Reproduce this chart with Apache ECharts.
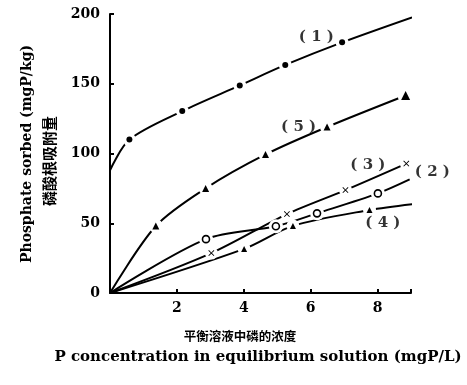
<!DOCTYPE html>
<html><head><meta charset="utf-8">
<script src="https://cdn.jsdelivr.net/npm/echarts@6/dist/echarts.min.js"></script>
<style>html,body{margin:0;padding:0;background:#fff}#c{width:467px;height:385px}</style>
</head><body><div id="c"></div>
<script>
// Data
var xTicks = [2, 4, 6, 8];
var yTicks = [0, 50, 100, 150, 200];
var s1x = [0, 0.58, 2.16, 3.88, 5.24, 6.94, 9.03];
var s1y = [88, 110, 130.4, 148.8, 163.5, 179.7, 197.6];
var s5x = [0, 1.37, 2.86, 4.65, 6.49, 8.84];
var s5y = [0, 48, 75, 99.3, 119, 141.6];
var s3x = [0, 3.03, 5.29, 7.04, 8.86];
var s3y = [0, 28.6, 56.6, 73.8, 92.8];
var s2x = [0, 2.87, 4.96, 6.19, 8.01, 8.96];
var s2y = [0, 38.6, 47.8, 57.1, 71.4, 81.4];
var s4x = [0, 4.01, 5.47, 7.76, 9.07];
var s4y = [0, 31.6, 48.1, 59.5, 63.8];
var curveNames = ['(1)', '(5)', '(3)', '(2)', '(4)'];
var labelX = [6.17, 5.64, 7.71, 9.64, 8.16];
var labelY = [183.3, 119, 91.6, 86.9, 50];

var FONT = 'DejaVu Serif';
var crossPath = 'path://M0,1L1,0L5,4L9,0L10,1L6,5L10,9L9,10L5,6L1,10L0,9L4,5Z';

function pairs(xs, ys) { return xs.map(function (x, i) { return [x, ys[i]]; }); }
// marker points: skip origin; optionally skip the last (line end without marker)
function markerPts(xs, ys, size, lastSize, lastNone) {
  var out = [];
  xs.forEach(function (x, i) {
    if (x === 0) return;
    var last = i === xs.length - 1;
    if (last && lastNone) return;
    out.push({ value: [x, ys[i]], symbolSize: (last && lastSize) ? lastSize : size });
  });
  return out;
}
function curve(xs, ys, sym, size, lastSize, lastNone, empty) {
  var mk = markerPts(xs, ys, size, lastSize, lastNone);
  return [
    { type: 'line', data: pairs(xs, ys), smooth: 0.3, symbol: 'none',
      lineStyle: { color: '#000', width: 2 }, emphasis: { disabled: true }, z: 2, silent: true },
    { type: 'scatter', symbol: 'circle', silent: true, z: 3,
      data: mk.map(function (d) { return { value: d.value, symbolSize: d.symbolSize + 7 }; }),
      itemStyle: { color: '#fff', opacity: 1 } },
    { type: 'scatter', symbol: sym, silent: true, z: 4, data: mk,
      itemStyle: empty ? { color: '#fff', borderColor: '#000', borderWidth: 1.6, opacity: 1 } : { color: '#000', opacity: 1 } }
  ];
}

var series = [].concat(
  curve(s1x, s1y, 'circle', 6, 9),
  curve(s5x, s5y, 'triangle', 7, 9),
  curve(s3x, s3y, crossPath, 6),
  curve(s2x, s2y, 'circle', 7, null, true, true),
  curve(s4x, s4y, 'triangle', 6, 8)
);
series.push({
  type: 'scatter', clip: false, symbolSize: 0, silent: true, z: 5,
  data: labelX.map(function (x, i) { return { value: [x, labelY[i]], name: curveNames[i] }; }),
  label: {
    show: true, position: 'inside', color: '#000', fontFamily: FONT, fontWeight: 'bold', fontSize: 15,
    formatter: function (p) { return p.name.split('').join(' '); }
  }
});

var chart = echarts.init(document.getElementById('c'), null, { renderer: 'canvas' });
chart.setOption({
  animation: false,
  backgroundColor: '#fff',
  grid: { left: 110, right: 56, top: 14, bottom: 92 },
  xAxis: {
    type: 'value', min: 0, max: 9, interval: 2,
    axisLine: { lineStyle: { color: '#000', width: 2 } },
    axisTick: { inside: true, length: 4, lineStyle: { color: '#000', width: 2 } },
    splitLine: { show: false },
    axisLabel: {
      color: '#000', fontFamily: FONT, fontWeight: 'bold', fontSize: 14, margin: 8,
      formatter: function (v) { return xTicks.indexOf(v) >= 0 ? String(v) : ''; }
    }
  },
  yAxis: {
    type: 'value', min: 0, max: 200, interval: 50,
    axisLine: { lineStyle: { color: '#000', width: 2 } },
    axisTick: { inside: true, length: 4, lineStyle: { color: '#000', width: 2 } },
    splitLine: { show: false },
    axisLabel: {
      color: '#000', fontFamily: FONT, fontWeight: 'bold', fontSize: 14, margin: 10,
      formatter: function (v) { return yTicks.indexOf(v) >= 0 ? String(v) : ''; }
    }
  },
  graphic: [
    { type: 'text', x: 27, y: 154, rotation: Math.PI / 2, style: { text: 'Phosphate sorbed (mgP/kg)', fill: '#000', font: 'bold 14px "' + FONT + '"', textAlign: 'center', textVerticalAlign: 'middle' } },
    { type: 'text', x: 49, y: 161, rotation: Math.PI / 2, style: { text: '磷酸根吸附量', fill: '#000', font: 'bold 15px "Noto Sans CJK SC"', textAlign: 'center', textVerticalAlign: 'middle' } },
    { type: 'text', x: 240, y: 336, style: { text: '平衡溶液中磷的浓度', fill: '#000', font: 'bold 12.5px "Noto Sans CJK SC"', textAlign: 'center', textVerticalAlign: 'middle' } },
    { type: 'text', x: 258, y: 357, style: { text: 'P concentration in equilibrium solution (mgP/L)', fill: '#000', font: 'bold 15px "' + FONT + '"', textAlign: 'center', textVerticalAlign: 'middle' } }
  ],
  series: series
});
</script></body></html>
